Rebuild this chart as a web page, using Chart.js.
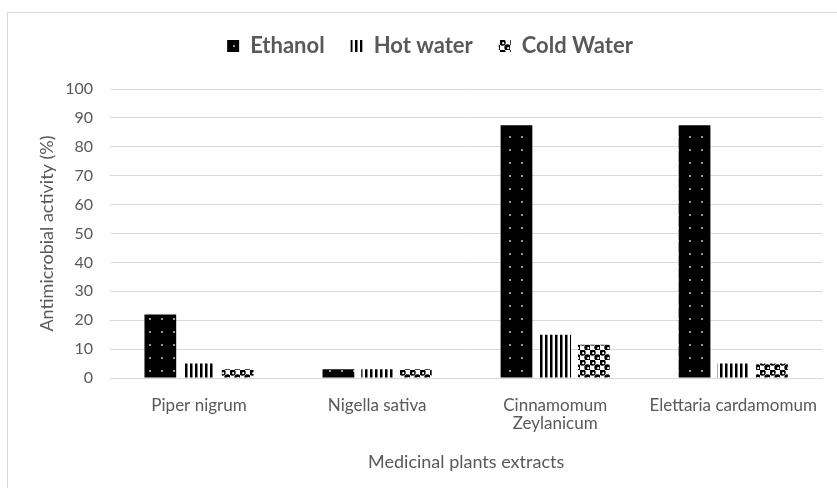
<!DOCTYPE html>
<html>
<head>
<meta charset="utf-8">
<script src="https://cdn.jsdelivr.net/npm/chart.js@4.4.1/dist/chart.umd.min.js"></script>
<style>
  html, body { margin: 0; padding: 0; background: #fff; }
  #wrap { position: relative; width: 837px; height: 488px; }
</style>
</head>
<body>
<div id="wrap"><canvas id="plantsChart" width="837" height="488"></canvas></div>
<script>
const plants = ['Piper nigrum', 'Nigella sativa', ['Cinnamomum', 'Zeylanicum'], 'Elettaria cardamomum'];
const ethanol = [22, 3, 87.5, 87.5];
const hotWater = [5, 3, 15, 5];
const coldWater = [3, 3, 11.5, 5];
const yTicks = [0, 10, 20, 30, 40, 50, 60, 70, 80, 90, 100];

// little tiles used as fill patterns
function makePattern(w, h, draw) {
    const c = document.createElement('canvas');
    c.width = w; c.height = h;
    const g = c.getContext('2d');
    draw(g);
    return document.getElementById('plantsChart').getContext('2d').createPattern(c, 'repeat');
}

const dotted = makePattern(12, 13, function (g) {
    g.fillStyle = '#000';
    g.fillRect(0, 0, 12, 13);
    g.fillStyle = '#9a9a9a';
    g.fillRect(5, 6, 2, 2);
});

const stripes = makePattern(5, 5, function (g) {
    g.fillStyle = '#fff';
    g.fillRect(0, 0, 5, 5);
    g.fillStyle = '#000';
    g.fillRect(0, 0, 2.5, 5);
});

const blobs = makePattern(10, 10, function (g) {
    g.fillStyle = '#fff';
    g.fillRect(0, 0, 10, 10);
    g.fillStyle = '#000';
    g.beginPath(); g.arc(2.5, 2.5, 3.2, 0, Math.PI * 2); g.fill();
    g.beginPath(); g.arc(7.5, 7.5, 3.2, 0, Math.PI * 2); g.fill();
    g.fillStyle = '#fff';
    g.beginPath(); g.arc(3.2, 3.2, 1.1, 0, Math.PI * 2); g.fill();
    g.beginPath(); g.arc(8.2, 8.2, 1.1, 0, Math.PI * 2); g.fill();
});

const frame = {
    id: 'frame',
    beforeDraw(chart) {
        const ctx = chart.ctx;
        ctx.save();
        ctx.strokeStyle = '#d9d9d9';
        ctx.lineWidth = 1;
        ctx.strokeRect(7.5, 12.5, 1000, 1000);
        ctx.restore();
    }
};

// pin the legend height so the plot starts where the original does,
// and nudge it a bit right like the original
const legendTweak = {
    id: 'legendTweak',
    beforeInit(chart) {
        const origFit = chart.legend.fit;
        chart.legend.fit = function () {
            origFit.bind(chart.legend)();
            this.height = 80;
        };
    },
    afterLayout(chart) {
        chart.legend.left += 16;
        chart.legend.right += 16;
    }
};

const txt = '#595959';

new Chart(document.getElementById('plantsChart'), {
    type: 'bar',
    data: {
        labels: plants,
        datasets: [
            { label: 'Ethanol', data: ethanol, backgroundColor: dotted },
            { label: 'Hot water', data: hotWater, backgroundColor: stripes },
            { label: 'Cold Water', data: coldWater, backgroundColor: blobs }
        ]
    },
    options: {
        responsive: false,
        animation: false,
        categoryPercentage: 0.652,
        barPercentage: 0.82,
        layout: { padding: { top: 9, right: 9, left: 0, bottom: 0 } },
        plugins: {
            tooltip: { enabled: false },
            legend: {
                position: 'top',
                labels: {
                    color: txt,
                    font: { family: 'Lato', size: 22, weight: 'bold' },
                    boxWidth: 12,
                    boxHeight: 12,
                    padding: 26
                }
            }
        },
        scales: {
            x: {
                grid: { display: false, drawTicks: false },
                border: { color: '#d9d9d9' },
                ticks: {
                    color: txt,
                    font: { family: 'Lato', size: 17, lineHeight: 1.05 },
                    padding: 19,
                    maxRotation: 0
                },
                title: {
                    display: true,
                    text: 'Medicinal plants extracts',
                    color: txt,
                    font: { family: 'Lato', size: 18 },
                    padding: { top: 0, bottom: 15 }
                },
                afterFit(scale) { scale.height = 110; }
            },
            y: {
                min: 0,
                max: 100,
                afterBuildTicks(scale) { scale.ticks = yTicks.map(v => ({ value: v })); },
                grid: { color: '#d9d9d9', drawTicks: false },
                border: { display: false },
                ticks: {
                    color: txt,
                    font: { family: 'Lato', size: 16 },
                    padding: 17
                },
                title: {
                    display: true,
                    text: 'Antimicrobial activity (%)',
                    color: txt,
                    font: { family: 'Lato', size: 18 },
                    padding: { top: 36, bottom: 0 }
                },
                afterFit(scale) { scale.width = 110; }
            }
        }
    },
    plugins: [frame, legendTweak]
});
</script>
</body>
</html>
